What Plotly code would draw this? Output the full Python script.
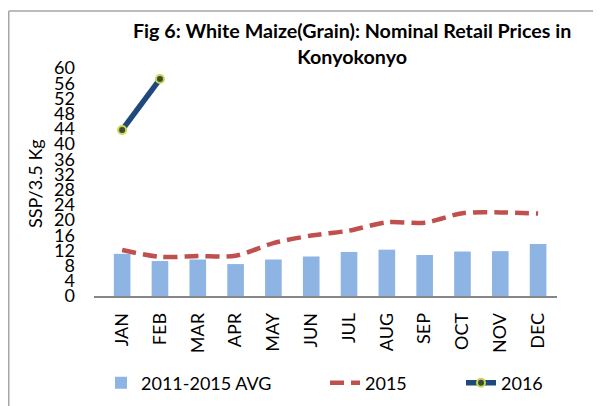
import plotly.graph_objects as go

months = ["JAN", "FEB", "MAR", "APR", "MAY", "JUN", "JUL", "AUG", "SEP", "OCT", "NOV", "DEC"]
avg_2011_2015 = [11.1, 9.2, 9.6, 8.4, 9.6, 10.4, 11.6, 12.2, 10.8, 11.7, 11.8, 13.7]
prices_2015 = [12.1, 10.3, 10.5, 10.6, 13.9, 15.9, 17.2, 19.4, 19.3, 21.8, 22.0, 21.7]
prices_2016 = [43.7, 57.1]
y_ticks = list(range(0, 61, 4))

FONT = "Lato"
OFF = 8  # default page body margin

# page-pixel geometry of the plot area
PL, PR, PT, PB = 94, 557, 68, 296
W, H = 601 - OFF, 406 - OFF
L = PL - OFF
T = PT - OFF
R = W - (PR - OFF)
B = H - (PB - OFF)
pw, ph = PR - PL, PB - PT

def px_x(px):
    return (px - PL) / pw

def px_y(py):
    return (PB - py) / ph

fig = go.Figure()
fig.add_trace(go.Bar(
    x=months, y=avg_2011_2015, name="2011-2015 AVG",
    marker=dict(color="#8EB4E3", line=dict(width=0)),
    legend="legend",
))
fig.add_trace(go.Scatter(
    x=months, y=prices_2015, name="2015", mode="lines",
    line=dict(color="#C0504D", width=4.5, dash="14px,7px", shape="spline", smoothing=0.8),
    legend="legend2",
))
fig.add_trace(go.Scatter(
    x=months[:len(prices_2016)], y=prices_2016, name="2016", mode="lines+markers",
    line=dict(color="#1F497D", width=5.5),
    marker=dict(size=8, color="#3B4A3A", line=dict(color="#C8D84A", width=2)),
    legend="legend3",
))

def leg(text_x):
    return dict(
        orientation="h", x=px_x(text_x - 41), y=px_y(383),
        xanchor="left", yanchor="middle",
        font=dict(family=FONT, size=18), bgcolor="rgba(0,0,0,0)",
    )

fig.update_layout(
    width=W, height=H,
    margin=dict(l=L, r=R, t=T, b=B, autoexpand=False),
    paper_bgcolor="white", plot_bgcolor="white",
    font=dict(family=FONT, size=18, color="black"),
    bargap=0.56,
    showlegend=True,
    legend=leg(142),
    legend2=leg(366),
    legend3=leg(502),
    annotations=[
        dict(
            text="<b>Fig 6: White Maize(Grain): Nominal Retail Prices in<br>Konyokonyo</b>",
            x=px_x(352), y=px_y(44), xref="paper", yref="paper",
            xanchor="center", yanchor="middle", showarrow=False,
            font=dict(family=FONT, size=19.7, color="black"), align="center",
        ),
        dict(
            text="SSP/3.5 Kg", textangle=-90,
            x=px_x(35), y=px_y(184), xref="paper", yref="paper",
            xanchor="center", yanchor="middle", showarrow=False,
            font=dict(family=FONT, size=18, color="black"),
        ),
    ],
    shapes=[
        dict(type="line", xref="paper", yref="paper",
             x0=px_x(8.75), x1=px_x(620), y0=px_y(11), y1=px_y(11),
             line=dict(color="#A6A6A6", width=1.5)),
        dict(type="line", xref="paper", yref="paper",
             x0=px_x(8.75), x1=px_x(8.75), y0=px_y(11), y1=px_y(420),
             line=dict(color="#A6A6A6", width=1.5)),
    ],
)
fig.update_xaxes(
    showgrid=False, showline=True, linecolor="#868686", linewidth=1.5,
    tickangle=-90, ticks="", ticklabelstandoff=8,
    tickfont=dict(family=FONT, size=18),
)
fig.update_yaxes(
    range=[0, 60], tickvals=y_ticks, showgrid=False, showline=False,
    zeroline=False, ticks="", ticklabelstandoff=18,
    tickfont=dict(family=FONT, size=18),
)

fig.write_html("out.html")
